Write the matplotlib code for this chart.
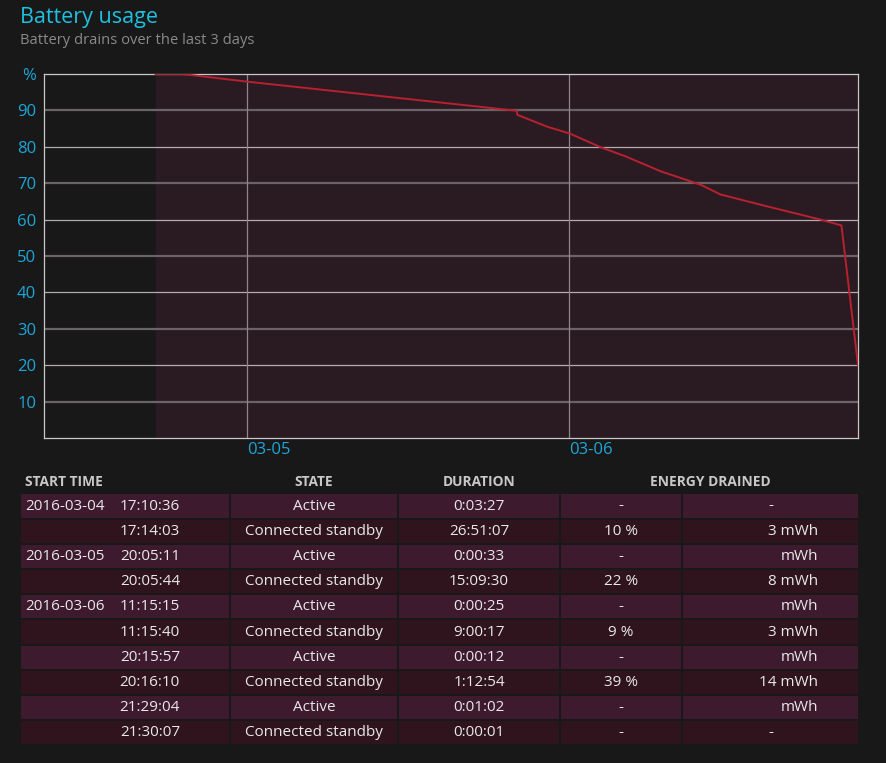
import numpy as np
import matplotlib
matplotlib.use("Agg")
import matplotlib.pyplot as plt
import matplotlib.dates as mdates
import pandas as pd
from matplotlib.patches import Rectangle

plt.rcParams['font.family'] = ['Open Sans', 'DejaVu Sans']

# battery level
times = ["2016-03-04 17:10:36", "2016-03-04 19:10:00", "2016-03-05 00:00:00",
         "2016-03-05 20:05:11", "2016-03-05 20:07:00", "2016-03-05 22:22:00",
         "2016-03-06 00:04:00", "2016-03-06 02:19:00", "2016-03-06 04:10:00",
         "2016-03-06 06:47:00", "2016-03-06 09:46:00", "2016-03-06 11:16:00",
         "2016-03-06 14:46:00", "2016-03-06 18:43:00", "2016-03-06 20:16:10",
         "2016-03-06 21:30:07"]
level = [100, 100, 97.9, 89.9, 88.8, 85.5, 83.6, 79.9, 77.4, 73.3, 69.6,
         66.9, 63.6, 60.0, 58.4, 20.0]

x_start = "2016-03-04 08:52:00"
day_ticks = ["2016-03-05 00:00:00", "2016-03-06 00:00:00"]
day_labels = ["03-05", "03-06"]
y_ticks = [10, 20, 30, 40, 50, 60, 70, 80, 90, 100]
y_labels = ["10", "20", "30", "40", "50", "60", "70", "80", "90", "%"]

# table
headers = ["START TIME", "STATE", "DURATION", "ENERGY DRAINED"]
start_date = ["2016-03-04", "", "2016-03-05", "", "2016-03-06", "", "", "", "", ""]
start_time = ["17:10:36", "17:14:03", "20:05:11", "20:05:44", "11:15:15",
              "11:15:40", "20:15:57", "20:16:10", "21:29:04", "21:30:07"]
state = ["Active", "Connected standby"] * 5
duration = ["0:03:27", "26:51:07", "0:00:33", "15:09:30", "0:00:25",
            "9:00:17", "0:00:12", "1:12:54", "0:01:02", "0:00:01"]
drain_pct = ["-", "10 %", "-", "22 %", "-", "9 %", "-", "39 %", "-", "-"]
drain_mwh = ["-", "3 mWh", "mWh", "8 mWh", "mWh", "3 mWh", "mWh", "14 mWh", "mWh", "-"]

BG = "#181818"
SHADE = "#2a1b22"
CYAN = "#1ea6d8"
ROW_A = "#3e1a2f"
ROW_B = "#2f141e"
TXT = "#e8e8e8"
FS = 11

W, H = 887, 763
fig = plt.figure(figsize=(W / 100, H / 100), dpi=100, facecolor=BG)

t = pd.to_datetime(times, format="%Y-%m-%d %H:%M:%S")
ax = fig.add_axes([44 / W, (H - 438) / H, 814 / W, 364 / H])
ax.set_facecolor(BG)
ax.axvspan(t[0], t[-1], color=SHADE, lw=0, zorder=0)
for i, v in enumerate(y_ticks[:-1]):
    if i % 2 == 0:
        ax.axhline(v, color="#6b6366", lw=1.6, zorder=1)
    else:
        ax.axhline(v, color="#b3abae", lw=0.9, zorder=1)
for d in day_ticks:
    ax.axvline(pd.Timestamp(d), color="#8e868a", lw=0.9, zorder=1)
ax.plot(t, level, color="#b8212f", lw=1.4, zorder=3)

ax.set_xlim(pd.Timestamp(x_start), t[-1])
ax.set_ylim(0, 100)
ax.set_yticks(y_ticks)
ax.set_yticklabels(y_labels)
ax.set_xticks(pd.to_datetime(day_ticks))
ax.set_xticklabels(day_labels, ha="left")
ax.tick_params(length=0, colors=CYAN, labelsize=12, pad=5.5)
ax.tick_params(axis="x", pad=3)
for s in ax.spines.values():
    s.set_color("#c8c8c8")
    s.set_linewidth(0.9)

# overlay in pixel space for headings and table
ov = fig.add_axes([0, 0, 1, 1], zorder=-1)
ov.set_xlim(0, W)
ov.set_ylim(H, 0)
ov.axis("off")
ov.text(20, 18, "Battery usage", color="#1fc0e0", fontsize=15.5, va="center")
ov.text(20, 40, "Battery drains over the last 3 days", color="#8a8a8a",
        fontsize=10.6, va="center")

col_edges = [21, 231, 399, 561, 683, 860]
row0, row_h = 506, 25.2
hk = dict(color="#c8c8c8", fontsize=9.9, fontweight="bold", va="center")
ov.text(25, 482, headers[0], **hk)
ov.text(314, 482, headers[1], ha="center", **hk)
ov.text(479, 482, headers[2], ha="center", **hk)
ov.text(710, 482, headers[3], ha="center", **hk)

for i in range(len(start_time)):
    yc = row0 + i * row_h
    fc = ROW_A if i % 2 == 0 else ROW_B
    for c in range(5):
        ov.add_patch(Rectangle((col_edges[c], yc - 11.6), col_edges[c + 1] - col_edges[c] - 2,
                               23.2, facecolor=fc, lw=0))
    kw = dict(color=TXT, fontsize=FS, va="center")
    ov.text(25, yc, start_date[i], **kw)
    ov.text(180, yc, start_time[i], ha="right", **kw)
    ov.text(314, yc, state[i], ha="center", **kw)
    ov.text(479, yc, duration[i], ha="center", **kw)
    ov.text(621, yc, drain_pct[i], ha="center", **kw)
    if drain_mwh[i] == "-":
        ov.text(771, yc, "-", ha="center", **kw)
    else:
        ov.text(818, yc, drain_mwh[i], ha="right", **kw)

fig.savefig("out.png", dpi=100, facecolor=BG)
